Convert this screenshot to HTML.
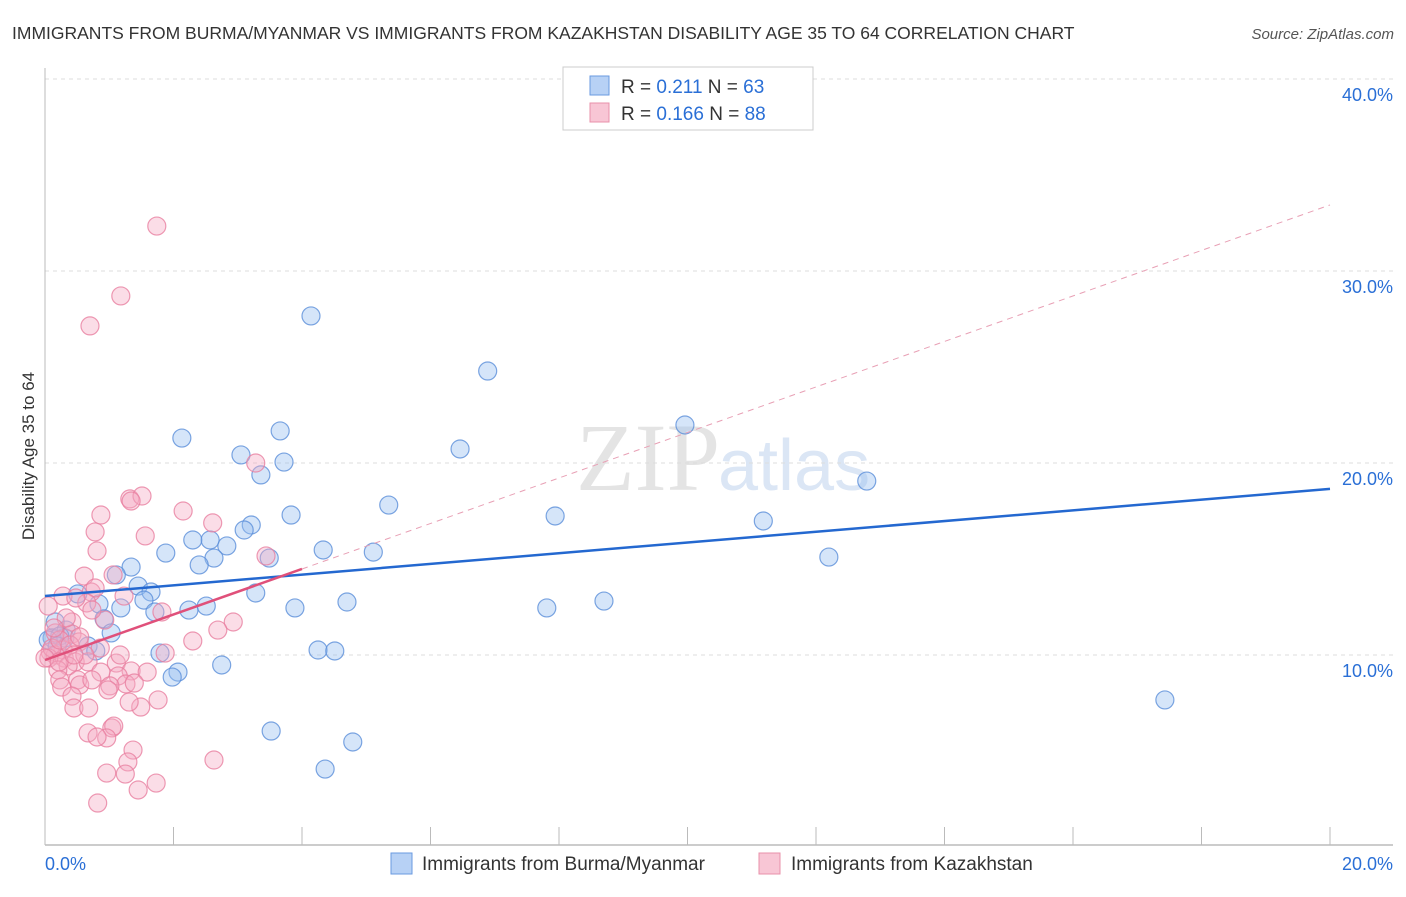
<!DOCTYPE html>
<html><head><meta charset="utf-8"><style>
body{margin:0;background:#fff;font-family:"Liberation Sans",sans-serif;}
</style></head><body>
<svg id="c" width="1406" height="892" xmlns="http://www.w3.org/2000/svg" style="font-family:'Liberation Sans',sans-serif">
<text x="12" y="39" font-size="17.5" fill="#333">IMMIGRANTS FROM BURMA/MYANMAR VS IMMIGRANTS FROM KAZAKHSTAN DISABILITY AGE 35 TO 64 CORRELATION CHART</text>
<text x="1394" y="39" font-size="15" fill="#555" text-anchor="end" font-style="italic">Source: ZipAtlas.com</text>
<text x="720" y="490" font-size="96" fill="#e4e4e4" text-anchor="end" font-family="Liberation Serif">ZIP</text>
<text x="718" y="490" font-size="72" fill="#dbe6f5">atlas</text>
<g id="grid"></g><g id="axes"></g><g id="pts"></g><g id="trend"></g>
<text x="34" y="456" font-size="17" fill="#333" text-anchor="middle" transform="rotate(-90 34 456)">Disability Age 35 to 64</text>
<g>
<rect x="563" y="67" width="250" height="63" fill="#fff" stroke="#ccc"/>
<rect x="590" y="76" width="19" height="19" fill="#b7d1f5" stroke="#6a9ae0"/>
<text x="621" y="93" font-size="19" fill="#333">R = <tspan fill="#2a6fd6">0.211</tspan>   N = <tspan fill="#2a6fd6">63</tspan></text>
<rect x="590" y="103" width="19" height="19" fill="#f8c6d5" stroke="#e890aa"/>
<text x="621" y="120" font-size="19" fill="#333">R = <tspan fill="#2a6fd6">0.166</tspan>   N = <tspan fill="#2a6fd6">88</tspan></text>
</g>
<g>
<rect x="391" y="853" width="21" height="21" fill="#b7d1f5" stroke="#6a9ae0"/>
<text x="422" y="870" font-size="19" fill="#333">Immigrants from Burma/Myanmar</text>
<rect x="759" y="853" width="21" height="21" fill="#f8c6d5" stroke="#e890aa"/>
<text x="791" y="870" font-size="19" fill="#333">Immigrants from Kazakhstan</text>
</g>
</svg>
<script>
const yTicks=[10,20,30,40];
const yTickLabels=["10.0%","20.0%","30.0%","40.0%"];
const xEndLabels=["0.0%","20.0%"];
const blueX=[4.14,6.89,9.96,2.13,3.66,6.46,3.05,3.72,3.36,12.79,5.35,7.94,3.83,11.18,3.21,3.10,2.57,2.83,2.30,1.88,4.33,5.11,3.49,2.63,12.20,2.40,1.34,1.11,1.45,1.65,3.28,0.51,0.84,1.54,2.51,2.24,3.89,4.70,7.81,8.70,1.18,1.71,0.92,1.03,0.16,0.33,0.31,0.11,0.67,0.79,1.79,4.25,4.51,2.07,1.98,2.75,17.43,3.52,4.79,4.36,0.23,0.05,0.19];
const blueY=[27.66,24.79,21.98,21.30,21.67,20.73,20.42,20.05,19.38,19.06,17.81,17.24,17.29,16.98,16.77,16.51,15.99,15.68,15.99,15.31,15.47,15.36,15.05,15.05,15.10,14.69,14.58,14.17,13.59,13.28,13.23,13.18,12.66,12.86,12.55,12.34,12.45,12.76,12.45,12.81,12.45,12.24,11.88,11.15,11.72,11.30,10.89,10.89,10.47,10.21,10.10,10.26,10.21,9.11,8.85,9.48,7.66,6.04,5.47,4.06,10.99,10.78,10.47];
const pinkX=[1.74,1.18,0.70,3.28,1.32,1.51,0.87,1.34,2.15,2.61,0.78,1.56,0.81,3.44,0.61,1.06,0.72,0.28,0.78,1.23,0.65,1.82,0.05,0.93,0.42,2.93,2.69,0.16,2.30,0.42,0.86,0.53,0.28,0.08,0.16,0.30,0.47,0.67,1.87,1.11,0.36,0.06,0.20,0.87,0.23,0.51,1.34,1.59,1.14,1.26,0.26,0.54,1.01,1.39,0.98,0.42,1.76,0.45,0.68,1.49,1.31,1.04,1.07,0.67,0.96,0.81,1.37,1.29,2.63,0.96,1.25,1.73,1.45,0.82,0.11,0.23,0.39,0.62,0.33,0.73,0.48,0.14,0.54,0.00,0.22,0.45,0.73,1.17];
const pinkY=[32.34,28.70,27.14,20.00,18.13,18.28,17.29,18.02,17.50,16.88,16.41,16.20,15.42,15.16,14.11,14.17,13.28,13.07,13.49,13.07,12.71,12.24,12.55,11.82,11.72,11.72,11.30,11.15,10.73,11.09,10.36,10.68,10.26,10.16,10.00,9.84,9.64,9.64,10.10,9.58,9.43,9.84,9.22,9.11,8.70,8.70,9.17,9.11,8.91,8.49,8.33,8.44,8.39,8.54,8.18,7.86,7.66,7.24,7.24,7.29,7.55,6.20,6.30,5.94,5.68,5.73,5.05,4.43,4.53,3.85,3.80,3.33,2.97,2.29,10.36,10.78,10.52,10.00,11.93,12.34,12.97,11.41,10.94,9.84,9.64,10.00,8.70,10.00];
const blueTrend=[13.07,18.65];
const pinkTrend=[9.74,33.44];
const pinkSolidEnd=4.0;
const NS="http://www.w3.org/2000/svg";
const X=v=>45+v*64.25, Y=v=>847-v*19.2;
function mk(tag,attrs,parent){const e=document.createElementNS(NS,tag);for(const k in attrs)e.setAttribute(k,attrs[k]);document.getElementById(parent).appendChild(e);return e;}
yTicks.forEach((t,i)=>{
  const l=mk('line',{x1:45,x2:1393,y1:Y(t),y2:Y(t),stroke:'#ddd','stroke-dasharray':'4,4'},'grid');
  
  
  const tx=mk('text',{x:1393,y:Y(t)+22,'font-size':18,fill:'#2a6fd6','text-anchor':'end'},'grid');
  tx.textContent=yTickLabels[i];
  
  
});
const ax=mk('line',{x1:45,x2:1393,y1:845,y2:845,stroke:'#bbb','stroke-width':1.5},'axes');


const ay=mk('line',{x1:45,x2:45,y1:68,y2:845,stroke:'#bbb','stroke-width':1},'axes');


for(let i=0;i<=10;i++){
  const t=mk('line',{x1:X(i*2),x2:X(i*2),y1:827,y2:845,stroke:'#bbb'},'axes');
  
  
}
[[0,'start'],[20,'end']].forEach((d,i)=>{
  const t=mk('text',{x:i?1393:45,y:870,'font-size':18,fill:'#2a6fd6','text-anchor':d[1]},'axes');
  t.textContent=xEndLabels[i];
  
  
});
blueX.forEach((x,i)=>{
  const c=mk('circle',{cx:X(x),cy:Y(blueY[i]),r:9,fill:'rgba(150,190,240,0.4)',stroke:'#5b8fd9','stroke-width':1.2,'stroke-opacity':0.8},'pts');
  
  
});
pinkX.forEach((x,i)=>{
  const c=mk('circle',{cx:X(x),cy:Y(pinkY[i]),r:9,fill:'rgba(245,170,195,0.4)',stroke:'#e87fa0','stroke-width':1.2,'stroke-opacity':0.8},'pts');
  
  
});
const pAt=v=>pinkTrend[0]+(pinkTrend[1]-pinkTrend[0])*v/20;
const bl=mk('line',{x1:X(0),y1:Y(blueTrend[0]),x2:X(20),y2:Y(blueTrend[1]),stroke:'#2468d0','stroke-width':2.5},'trend');


const pl=mk('line',{x1:X(0),y1:Y(pinkTrend[0]),x2:X(pinkSolidEnd),y2:Y(pAt(pinkSolidEnd)),stroke:'#e0507a','stroke-width':2.5},'trend');


const pd=mk('line',{x1:X(pinkSolidEnd),y1:Y(pAt(pinkSolidEnd)),x2:X(20),y2:Y(pinkTrend[1]),stroke:'#e8a0b5','stroke-width':1,'stroke-dasharray':'6,5'},'trend');


</script>
</body></html>
